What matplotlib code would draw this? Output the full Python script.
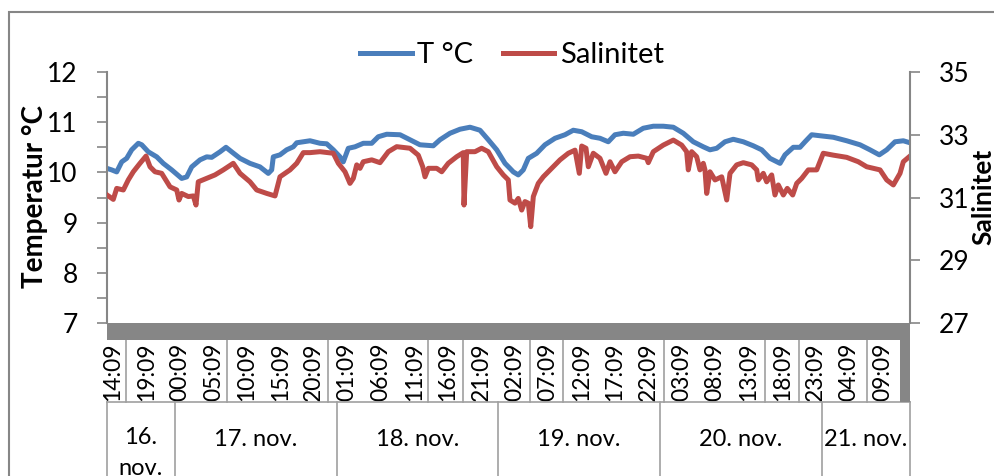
import matplotlib.pyplot as plt
from matplotlib.transforms import blended_transform_factory
from matplotlib.patches import Rectangle
from matplotlib.lines import Line2D

plt.rcParams['font.family'] = ['Lato', 'DejaVu Sans']

# hours after start of logging (16. nov ~14:00)
hours_t = [0.0, 0.7, 1.45, 2.2, 2.94, 3.69, 4.68, 5.19, 6.17, 7.43, 8.41, 9.67, 11.16, 11.91,
           12.66, 13.9, 14.9, 15.65, 16.89, 17.78, 18.63, 19.88, 21.37, 22.86, 24.1, 24.61,
           24.85, 25.85, 26.85, 27.84, 28.35, 29.34, 30.34, 31.83, 32.83, 33.82, 34.82, 35.31,
           36.06, 37.06, 38.3, 39.56, 40.54, 41.8, 43.79, 45.28, 46.77, 48.76, 49.76, 51.26,
           52.75, 54.25, 55.74, 56.98, 58.24, 59.48, 60.22, 60.72, 61.46, 62.21, 62.96, 64.21,
           65.45, 66.95, 68.44, 69.68, 70.94, 72.43, 73.67, 74.91, 75.91, 77.16, 78.65, 80.14,
           81.64, 83.13, 84.63, 86.12, 87.62, 89.11, 90.11, 91.11, 92.35, 93.59, 95.09, 96.58,
           97.84, 99.08, 100.58, 101.32, 102.56, 103.56, 104.31, 105.31, 106.56, 108.54,
           110.54, 112.53, 114.02, 115.41, 116.52, 117.76, 119.0, 120.0]
temp = [10.08, 10.05, 10.01, 10.21, 10.28, 10.45, 10.58, 10.55, 10.41, 10.31, 10.18, 10.05,
        9.88, 9.91, 10.11, 10.25, 10.31, 10.3, 10.41, 10.5, 10.41, 10.28, 10.18, 10.11, 9.98,
        10.05, 10.31, 10.35, 10.45, 10.51, 10.59, 10.61, 10.63, 10.58, 10.57, 10.45, 10.31,
        10.21, 10.48, 10.51, 10.58, 10.58, 10.71, 10.76, 10.75, 10.65, 10.55, 10.53, 10.65,
        10.78, 10.86, 10.9, 10.84, 10.65, 10.45, 10.18, 10.08, 10.01, 9.95, 10.05, 10.28,
        10.38, 10.55, 10.68, 10.75, 10.84, 10.81, 10.71, 10.68, 10.61, 10.75, 10.78, 10.76,
        10.88, 10.92, 10.92, 10.9, 10.78, 10.61, 10.51, 10.45, 10.48, 10.61, 10.66, 10.61,
        10.53, 10.45, 10.28, 10.18, 10.35, 10.5, 10.5, 10.61, 10.75, 10.73, 10.7, 10.63,
        10.55, 10.45, 10.35, 10.45, 10.61, 10.63, 10.59]

hours_s = [0.0, 0.94, 1.45, 2.44, 3.18, 3.93, 4.93, 5.83, 6.43, 7.17, 8.17, 9.42, 10.42,
           10.76, 11.16, 12.15, 12.9, 13.3, 13.64, 14.9, 16.14, 17.38, 18.87, 19.88, 21.37,
           22.37, 23.87, 25.11, 25.85, 27.35, 28.35, 29.34, 30.34, 31.83, 33.82, 34.57, 35.57,
           36.31, 36.81, 37.32, 37.81, 38.3, 39.56, 40.8, 42.04, 43.29, 45.28, 46.52, 47.18,
           47.52, 48.02, 49.27, 50.02, 51.0, 52.26, 53.24, 53.35, 53.75, 54.99, 55.99, 56.98,
           58.24, 59.22, 59.97, 60.22, 60.97, 61.46, 61.97, 62.46, 62.96, 63.32, 63.71, 64.45,
           65.2, 66.46, 67.7, 68.94, 69.94, 70.58, 70.94, 71.58, 71.93, 72.67, 73.67, 74.57,
           75.17, 75.91, 76.92, 78.16, 79.4, 80.65, 80.89, 81.64, 83.13, 84.63, 85.88, 86.62,
           86.87, 87.37, 88.12, 88.61, 89.11, 89.36, 89.62, 90.11, 90.86, 91.86, 92.61, 93.1,
           94.1, 95.09, 96.34, 97.09, 97.33, 98.08, 98.58, 99.33, 99.82, 100.32, 101.07,
           101.66, 102.47, 103.07, 103.82, 104.8, 106.06, 107.04, 108.54, 110.54, 112.27,
           113.53, 114.52, 115.52, 116.52, 117.51, 118.51, 119.0, 120.0]
sal = [31.08, 30.94, 31.29, 31.24, 31.56, 31.82, 32.09, 32.32, 31.98, 31.82, 31.77, 31.34,
       31.24, 30.92, 31.13, 31.03, 31.05, 30.76, 31.5, 31.61, 31.72, 31.88, 32.09, 31.77,
       31.5, 31.24, 31.13, 31.05, 31.66, 31.88, 32.09, 32.43, 32.43, 32.46, 32.41, 32.09,
       31.82, 31.45, 31.61, 32.04, 31.93, 32.14, 32.2, 32.11, 32.46, 32.62, 32.57, 32.35,
       31.98, 31.66, 31.93, 31.93, 31.82, 32.09, 32.3, 32.43, 30.76, 32.46, 32.46, 32.57,
       32.46, 31.98, 31.72, 31.56, 30.92, 30.82, 30.97, 30.6, 30.87, 30.82, 30.07, 31.03,
       31.45, 31.66, 31.93, 32.2, 32.41, 32.51, 31.77, 32.64, 32.57, 31.98, 32.41, 32.25,
       31.77, 32.14, 31.82, 32.14, 32.3, 32.32, 32.25, 32.11, 32.46, 32.67, 32.83, 32.67,
       32.46, 31.88, 32.46, 32.3, 31.88, 32.09, 31.88, 31.13, 31.82, 31.56, 31.66, 30.92,
       31.77, 32.04, 32.11, 32.04, 31.88, 31.56, 31.77, 31.5, 31.72, 31.08, 31.4, 31.08,
       31.29, 31.08, 31.45, 31.61, 31.88, 31.88, 32.41, 32.35, 32.28, 32.14, 31.98, 31.93,
       31.88, 31.56, 31.4, 31.77, 32.14, 32.32]

tick_hours = [0.9 + 5 * i for i in range(24)]
tick_labels = ['14:09', '19:09', '00:09', '05:09', '10:09', '15:09', '20:09', '01:09',
               '06:09', '11:09', '16:09', '21:09', '02:09', '07:09', '12:09', '17:09',
               '22:09', '03:09', '08:09', '13:09', '18:09', '23:09', '04:09', '09:09']
label_seps = [2.79, 17.89, 32.98, 48.02, 53.16, 63.21, 68.14, 83.24, 98.33, 103.41, 113.57]
day_edges = [0, 10.16, 34.37, 58.43, 82.64, 106.85, 120]
day_labels = ['16.\nnov.', '17. nov.', '18. nov.', '19. nov.', '20. nov.', '21. nov.']

W, H = 994, 476
blue = '#4A7EBB'
red = '#BE4B48'
grey = '#868686'

fig = plt.figure(figsize=(W / 100, H / 100), dpi=100)
ax = fig.add_axes([107 / W, 1 - 323 / H, 803 / W, 251 / H])
ax2 = ax.twinx()

ax.plot(hours_t, temp, color=blue, lw=3.6, solid_joinstyle='round')
ax2.plot(hours_s, sal, color=red, lw=3.6, solid_joinstyle='round')

ax.set_xlim(0, 120)
ax.set_ylim(7, 12)
ax2.set_ylim(27, 35)
ax.set_yticks(range(7, 13))
ax.set_yticks([7.5 + i for i in range(5)], minor=True)
ax2.set_yticks(range(27, 36, 2))

for a in (ax, ax2):
    for s in ('top', 'bottom'):
        a.spines[s].set_visible(False)
    a.spines['left'].set_color(grey)
    a.spines['right'].set_color(grey)
    a.spines['left'].set_linewidth(1.5)
    a.spines['right'].set_linewidth(1.5)
ax.spines['right'].set_visible(False)
ax2.spines['left'].set_visible(False)

ax.tick_params(axis='y', which='both', direction='out', length=7, width=1.2,
               color=grey, labelsize=19, pad=14)
ax2.tick_params(axis='y', direction='out', length=7, width=1.2,
                color=grey, labelsize=19, pad=14)
ax.set_xticks(tick_hours, tick_labels, rotation=90, fontsize=16.5)
ax.tick_params(axis='x', length=0, pad=14)

fig.text(35 / W, 1 - 196 / H, 'Temperatur °C', rotation=90, ha='center', va='center',
         fontsize=20, fontweight='bold')
fig.text(983 / W, 1 - 197 / H, 'Salinitet', rotation=90, ha='center', va='center',
         fontsize=19, fontweight='bold')

# grey band under plot area and strip at the right end of the time labels
fig.patches.append(Rectangle((107 / W, 1 - 340 / H), 803 / W, 17 / H, transform=fig.transFigure,
                             color=grey, lw=0))
fig.patches.append(Rectangle((900 / W, 1 - 402 / H), 10 / W, 62 / H, transform=fig.transFigure,
                             color=grey, lw=0))

tr = blended_transform_factory(ax.transData, fig.transFigure)
for h in label_seps:
    ax.plot([h, h], [1 - 340 / H, 1 - 402 / H], color='#a0a0a0', lw=1.2, transform=tr,
            clip_on=False)
ax.plot([0, 120], [1 - 402 / H, 1 - 402 / H], color='#a0a0a0', lw=1.2, transform=tr,
        clip_on=False)
for h in day_edges:
    ax.plot([h, h], [1 - 402 / H, 0], color='#a0a0a0', lw=1.2, transform=tr, clip_on=False)
for i, lab in enumerate(day_labels):
    mid = (day_edges[i] + day_edges[i + 1]) / 2
    ax.text(mid, 1 - 440 / H, lab, transform=tr, ha='center', va='center' if i else 'top',
            fontsize=17, linespacing=1.6, clip_on=False)
ax.texts[0].set_y(1 - 427 / H)

# outer chart border
fig.patches.append(Rectangle((9 / W, -0.1), 1.1, 1 - 12 / H + 0.1, transform=fig.transFigure,
                             fill=False, edgecolor=grey, lw=1.5))

handles = [Line2D([], [], color=blue, lw=3.6), Line2D([], [], color=red, lw=3.6)]
fig.legend(handles, ['T °C', 'Salinitet'], loc='center', bbox_to_anchor=(512 / W, 1 - 55 / H),
           ncol=2, frameon=False, fontsize=21, handlelength=1.75, handletextpad=0.2,
           columnspacing=1.0)

fig.savefig('out.png', dpi=100)
